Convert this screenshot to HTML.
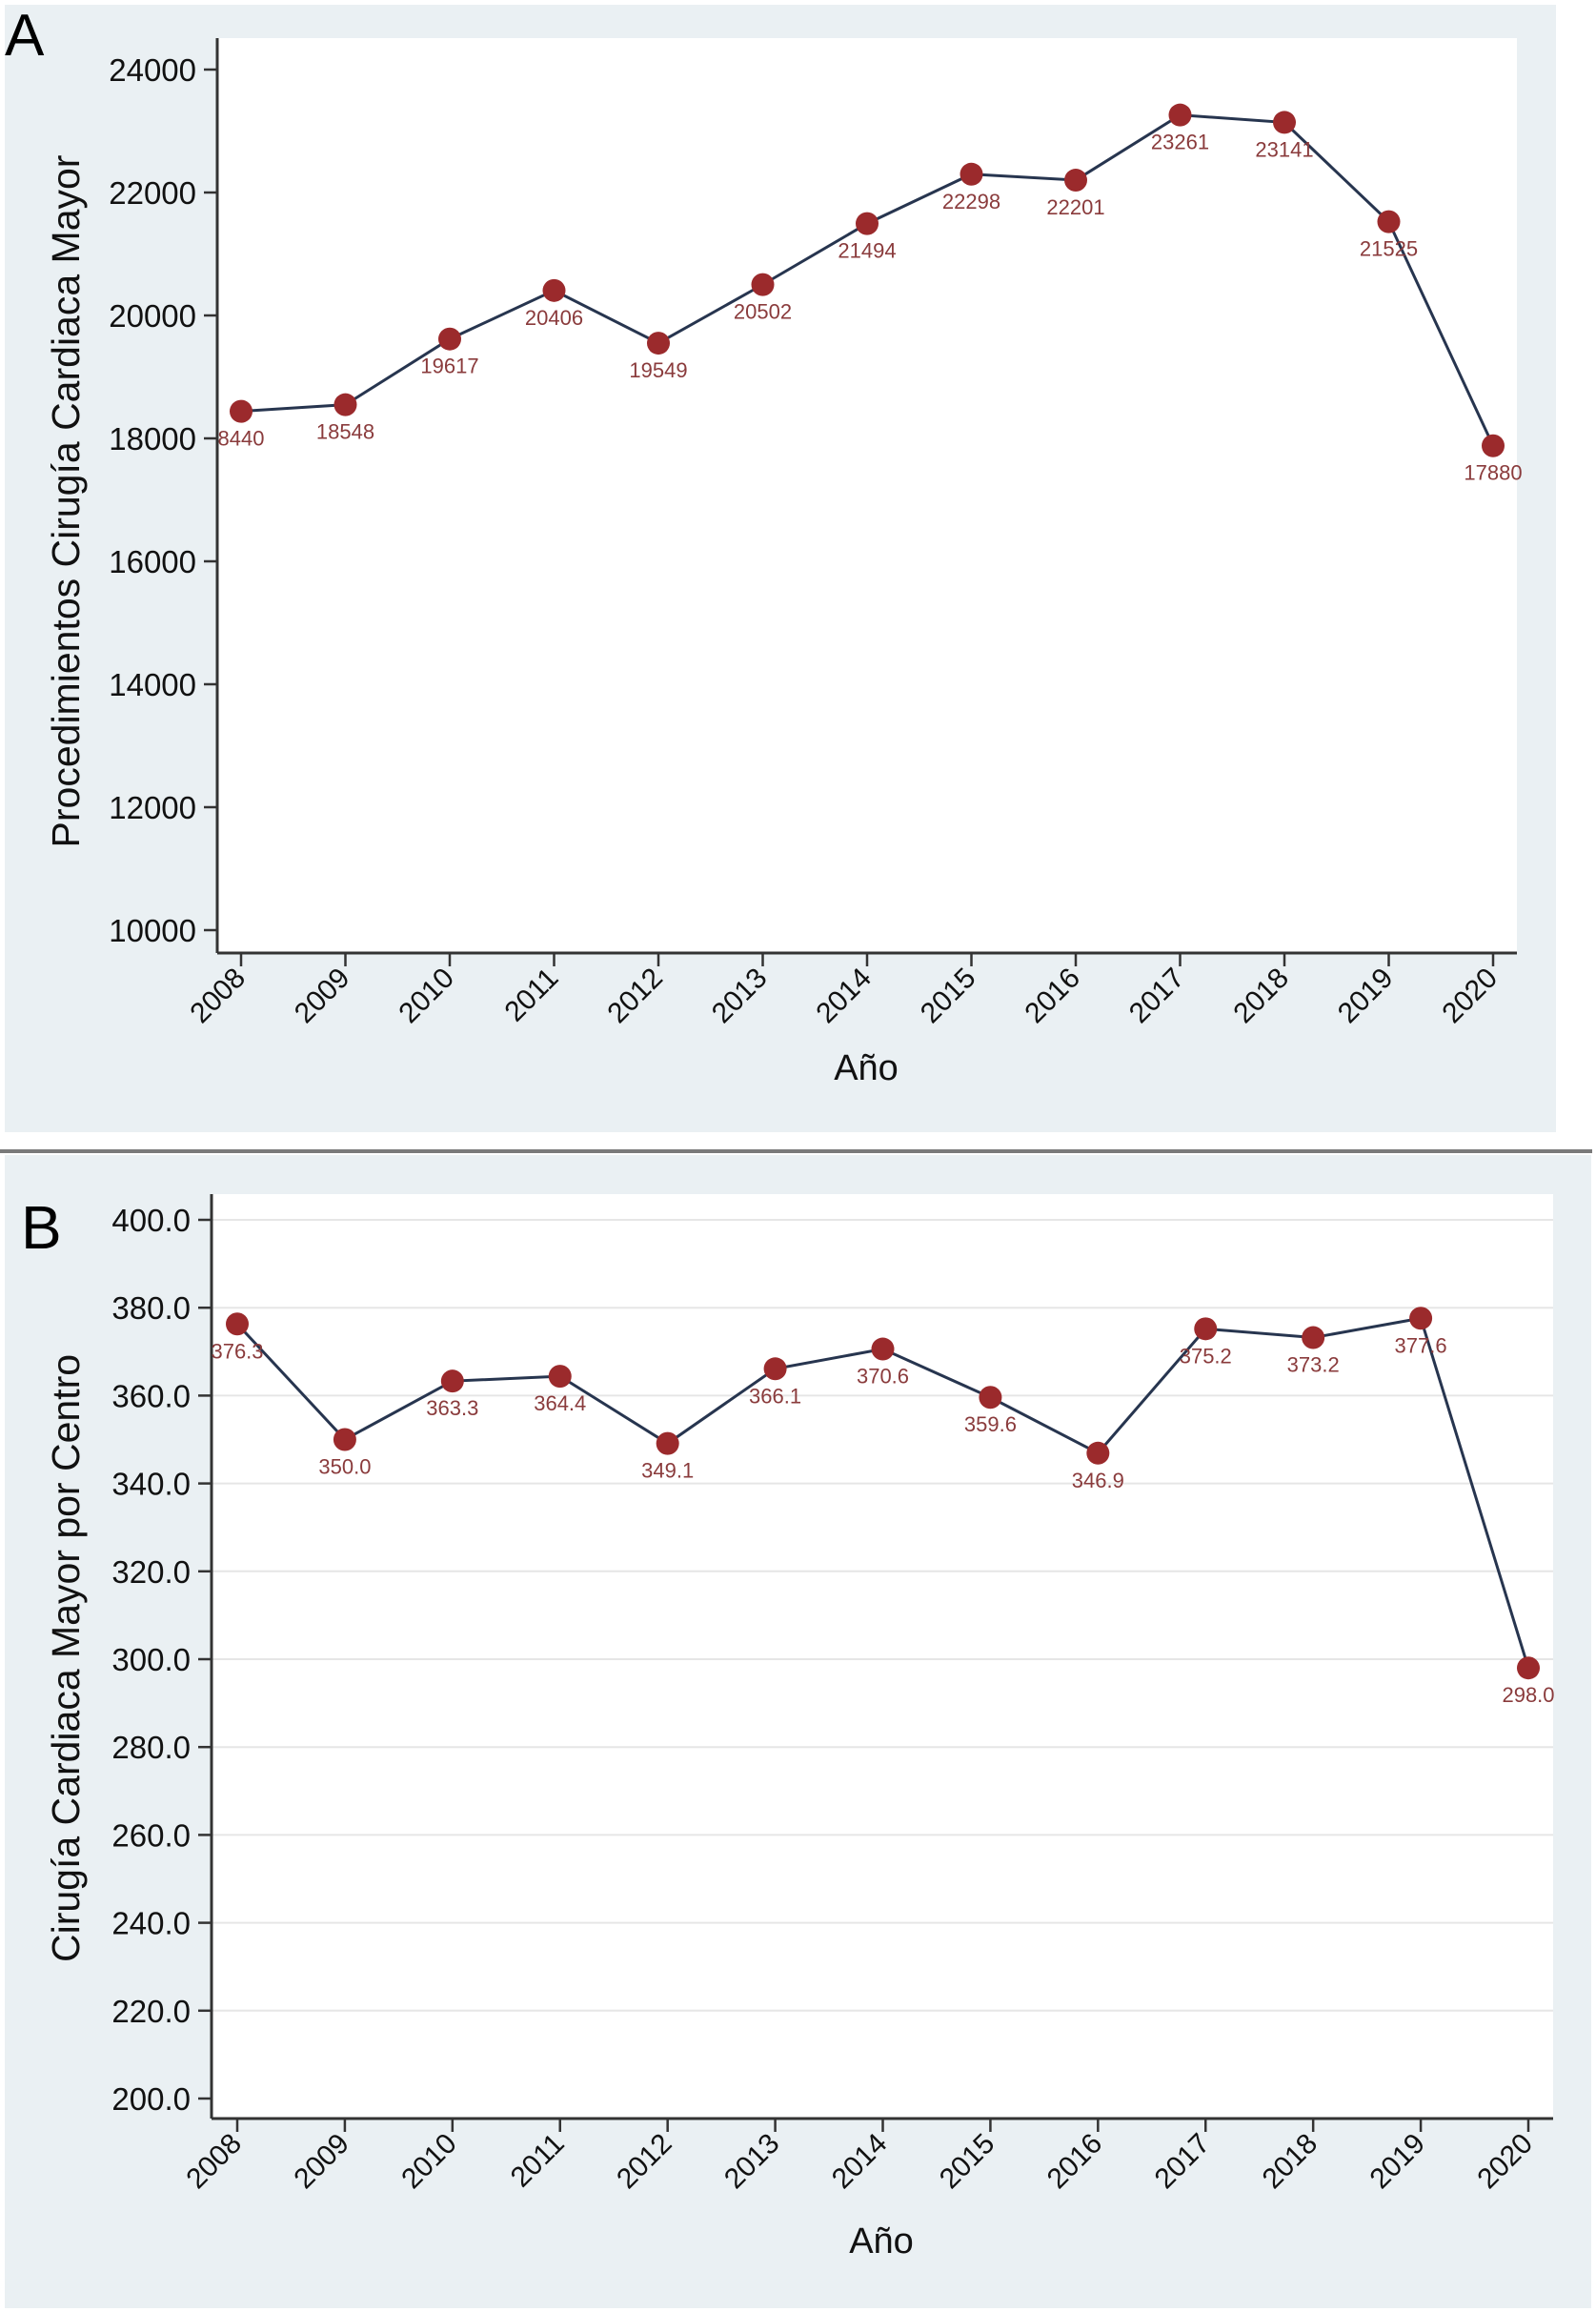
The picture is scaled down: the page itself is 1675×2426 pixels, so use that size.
<!DOCTYPE html>
<html><head><meta charset="utf-8"><style>
html,body{margin:0;padding:0;background:#fff;}
svg{display:block;font-family:"Liberation Sans",sans-serif;}
</style></head><body>
<svg width="1675" height="2426" viewBox="0 0 1675 2426" xmlns="http://www.w3.org/2000/svg">
<rect x="5" y="5" width="1628" height="1183" fill="#eaf0f3"/>
<rect x="228" y="40" width="1364" height="960" fill="#ffffff"/>
<line x1="0" y1="1208" x2="1671" y2="1208" stroke="#7a7a7a" stroke-width="4"/>
<rect x="5" y="1212" width="1665" height="1210" fill="#eaf0f3"/>
<rect x="222" y="1253" width="1408" height="970" fill="#ffffff"/>
<text x="5" y="58" font-size="62" fill="#000">A</text>
<text x="22" y="1310" font-size="64" fill="#000">B</text>
<g id="chartA"></g>
<g id="chartB"></g>
</svg>
<script>
const years = ["2008","2009","2010","2011","2012","2013","2014","2015","2016","2017","2018","2019","2020"];
const procValues = [18440,18548,19617,20406,19549,20502,21494,22298,22201,23261,23141,21525,17880];
const procLabels = ["8440","18548","19617","20406","19549","20502","21494","22298","22201","23261","23141","21525","17880"];
const procTicks = [10000,12000,14000,16000,18000,20000,22000,24000];
const centroValues = [376.3,350.0,363.3,364.4,349.1,366.1,370.6,359.6,346.9,375.2,373.2,377.6,298.0];
const centroTicks = [200,220,240,260,280,300,320,340,360,380,400];

const NS = "http://www.w3.org/2000/svg";
function mk(parent, tag, attrs, text){
  const e = document.createElementNS(NS, tag);
  for (const k in attrs) e.setAttribute(k, attrs[k]);
  if (text !== undefined) e.textContent = text;
  parent.appendChild(e);
  return e;
}
function drawChart(g, cfg){
  const xS = i => cfg.x0 + i*(cfg.x1-cfg.x0)/(years.length-1);
  const yS = v => cfg.yTop + (cfg.vMax - v)*(cfg.yBot-cfg.yTop)/(cfg.vMax-cfg.vMin);
  if (cfg.grid){
    cfg.ticks.forEach(t=>{
      if (t===cfg.vMin) return;
      const l = mk(g,'line',{x1:cfg.axX,x2:cfg.right,y1:yS(t),y2:yS(t),stroke:'#e6e6e6','stroke-width':2});
      
      
    });
  }
  const ya = mk(g,'line',{x1:cfg.axX,x2:cfg.axX,y1:cfg.axTop,y2:cfg.axY,stroke:'#333','stroke-width':3});
  
  
  const xa = mk(g,'line',{x1:cfg.axX,x2:cfg.right,y1:cfg.axY,y2:cfg.axY,stroke:'#333','stroke-width':3});
  
  
  cfg.ticks.forEach(t=>{
    const y = yS(t);
    const tk = mk(g,'line',{x1:cfg.axX-14,x2:cfg.axX,y1:y,y2:y,stroke:'#333','stroke-width':2.5});
    
    
    const tl = mk(g,'text',{x:cfg.axX-22,y:y+12,'text-anchor':'end','font-size':33,fill:'#111'}, cfg.fmt(t));
    
    
  });
  years.forEach((yr,i)=>{
    const x = xS(i);
    const tk = mk(g,'line',{x1:x,x2:x,y1:cfg.axY,y2:cfg.axY+14,stroke:'#333','stroke-width':2.5});
    
    
    const tl = mk(g,'text',{x:x+6,y:cfg.axY+28,'text-anchor':'end','font-size':30,fill:'#111',transform:`rotate(-45 ${x+6} ${cfg.axY+28})`}, yr);
    
    
  });
  const pts = cfg.values.map((v,i)=>xS(i)+','+yS(v)).join(' ');
  const pl = mk(g,'polyline',{points:pts,fill:'none',stroke:'#27354f','stroke-width':3});
  
  
  cfg.values.forEach((v,i)=>{
    const c = mk(g,'circle',{cx:xS(i),cy:yS(v),r:12,fill:'#9b2a2c'});
    
    
    const lb = mk(g,'text',{x:xS(i),y:yS(v)+36,'text-anchor':'middle','font-size':22,fill:'#8a3b3c'}, cfg.labels[i]);
    
    
  });
  const xt = mk(g,'text',{x:cfg.xtX,y:cfg.xtY,'text-anchor':'middle','font-size':38,fill:'#111'},'Año');
  
  
  const yt = mk(g,'text',{x:cfg.ytX,y:cfg.ytY,'text-anchor':'middle','font-size':41,fill:'#111',transform:`rotate(-90 ${cfg.ytX} ${cfg.ytY})`},cfg.ytitle);
  
  
}
drawChart(document.getElementById('chartA'),{
  values:procValues, labels:procLabels, ticks:procTicks, fmt:t=>String(t),
  x0:253, x1:1567, yTop:73, yBot:976, vMax:24000, vMin:10000,
  axX:228, axTop:40, axY:1000, right:1592, grid:false,
  xtX:909, xtY:1133, ytX:83, ytY:526, ytitle:'Procedimientos Cirugía Cardiaca Mayor'
});
drawChart(document.getElementById('chartB'),{
  values:centroValues, labels:centroValues.map(v=>v.toFixed(1)), ticks:centroTicks, fmt:t=>t.toFixed(1),
  x0:249, x1:1604, yTop:1280, yBot:2202, vMax:400, vMin:200,
  axX:222, axTop:1253, axY:2223, right:1630, grid:true,
  xtX:925, xtY:2364, ytX:83, ytY:1740, ytitle:'Cirugía Cardiaca Mayor por Centro'
});
</script>
</body></html>
